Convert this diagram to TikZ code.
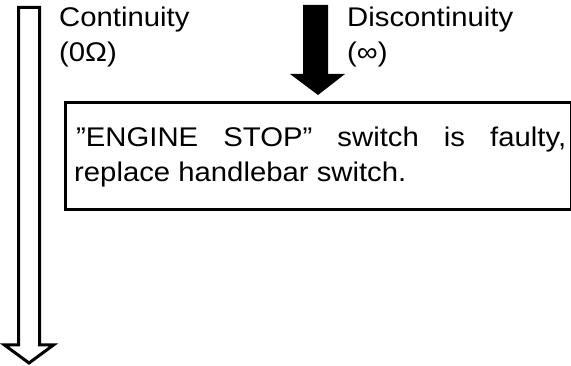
\documentclass[tikz,border=0pt]{standalone}
\usepackage{fontspec}
\newfontfamily\widesans[FakeStretch=1.085]{Liberation Sans}
\begin{document}
\begin{tikzpicture}[x=1pt,y=-1pt,
  lbl/.style={anchor=base west,inner sep=0pt,font=\widesans\fontsize{27}{31}\selectfont},
  frame/.style={draw,line width=3pt},
  hollow/.style={draw,line width=3pt,line join=miter,fill=white},
  solid/.style={fill=black}]
\useasboundingbox (0,0) rectangle (571,366);
% hollow arrow (continuity)
\draw[hollow] (18.5,7.5) -- (39.5,7.5) -- (39.5,345) -- (53.5,345) -- (29,363) -- (4.5,345) -- (18.5,345) -- cycle;
% solid arrow (discontinuity)
\fill[solid] (303,5) -- (328,5) -- (328,74) -- (345,74) -- (318,95) -- (290,74) -- (303,74) -- cycle;
% labels
\node[lbl] (cont) at (59,27) {Continuity};
\node[lbl] (zero) at (59,62) {(0Ω)};
\node[lbl] (disc) at (347,27) {Discontinuity};
\node[lbl] (inf) at (347,62) {(∞)};
% box
\node[frame,anchor=north west,minimum width=506pt,minimum height=107pt,inner sep=0pt] (box) at (63.5,101.5) {};
\node[lbl] (line1) at (76,147) {\makebox[490pt][s]{”ENGINE STOP” switch is faulty,}};
\node[lbl] (line2) at (74,182) {replace handlebar switch.};
\end{tikzpicture}
\end{document}
